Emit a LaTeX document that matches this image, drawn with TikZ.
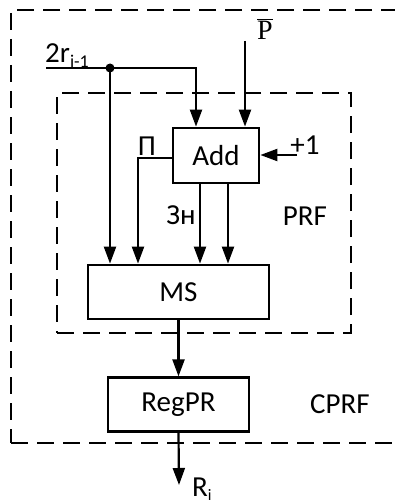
\documentclass[tikz,border=0pt]{standalone}
\usepackage{fontspec}
\setmainfont{Carlito}
\newfontfamily\serifp{Liberation Serif}
\usetikzlibrary{arrows.meta,positioning,fit,calc}
\tikzset{
  blk/.style={rectangle,draw,line width=2.8pt,inner sep=0pt,
    font=\fontsize{29}{32}\selectfont},
  dashbox/.style={rectangle,draw,line width=2.4pt,dash pattern=on 17pt off 9pt,
    inner sep=0pt},
  lbl/.style={inner sep=0pt,font=\fontsize{29}{32}\selectfont},
  arr/.style={-{Triangle[length=17pt,width=12pt]},line width=2.2pt},
  wire/.style={line width=2.2pt}
}
\newcommand{\subtxt}[1]{\raisebox{-5pt}{\fontsize{18}{20}\selectfont #1}}

\begin{document}
\begin{tikzpicture}[x=1pt,y=-1pt]

  \clip (0,0) rectangle (395,503);

  % blocks
  \node[blk,minimum width=86pt,minimum height=55pt] (add) at (216,155.5) {Add};
  \node[blk,minimum width=181pt,minimum height=54pt] (ms) at (178.5,292) {MS};
  \node[blk,minimum width=141pt,minimum height=54pt,below=56pt of ms] (reg) {RegPR};

  % dashed frames
  \coordinate (prfnw) at (57,93);
  \coordinate (prfse) at (351,333);
  \node[dashbox,fit=(prfnw)(prfse)] (prf) {};
  \coordinate (cprfnw) at (11,10);
  \coordinate (cprfse) at (430,443);
  \node[dashbox,fit=(cprfnw)(cprfse)] (cprf) {};

  % inputs
  \coordinate (in2r) at (46,68);
  \coordinate (fork) at (110,68);
  \coordinate (inp) at (245,41);
  \coordinate (inone) at (297,155);
  \coordinate (carry) at (138,158);
  \coordinate (sum1) at ($(add.south)+(-16,0)$);
  \coordinate (sum2) at ($(add.south)+(12,0)$);
  \coordinate (rout) at (179,485);

  \draw[wire] (in2r) -- (fork);
  \draw[arr] (fork) -| ($(add.north)+(-20,0)$);
  \draw[arr] (fork) -- (fork |- ms.north);
  \fill (fork) circle (4.5pt);
  \draw[arr] (inp) -- (inp |- add.north);
  \draw[arr] (inone) -- (add.east |- inone);

  % Add -> MS
  \draw[arr] (add.west |- carry) -- (carry) -- (carry |- ms.north);
  \draw[arr] (sum1) -- (sum1 |- ms.north);
  \draw[arr] (sum2) -- (sum2 |- ms.north);

  % MS -> RegPR -> out
  \draw[arr] (ms.south) -- (reg.north);
  \draw[arr] (reg.south) -- (rout);

  % labels
  \node[lbl,anchor=base west] (lab2r) at (45,63) {2r\subtxt{i-1}};
  \node[lbl] (labp) at (265,29) {$\overline{\hbox{\fontsize{28}{30}\serifp P}}$};
  \node[lbl] (labone) at (305,145) {+1};
  \node[lbl] (labpi) at (147,146) {П};
  \node[lbl] (labzn) at (181,215) {Зн};
  \node[lbl] (labprf) at (305,216) {PRF};
  \node[lbl] (labcprf) at (340,404) {CPRF};
  \node[lbl,anchor=base west] (labr) at (192,496) {R\raisebox{-4pt}{\fontsize{16}{18}\selectfont i}};

\end{tikzpicture}
\end{document}
